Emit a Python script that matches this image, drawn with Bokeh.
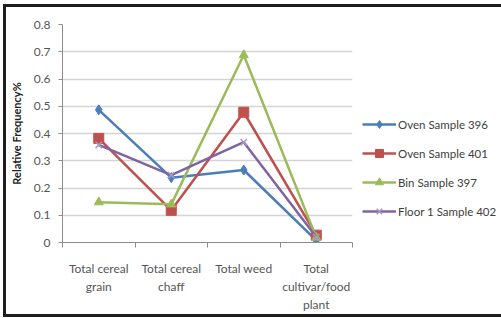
from bokeh.plotting import figure
from bokeh.models import FixedTicker, Legend, LegendItem
from bokeh.embed import file_html
from bokeh.resources import INLINE

categories = ["Total cereal\ngrain", "Total cereal\nchaff", "Total weed", "Total\ncultivar/food\nplant"]
series_names = ["Oven Sample 396", "Oven Sample 401", "Bin Sample 397", "Floor 1 Sample 402"]
oven_396 = [0.487, 0.238, 0.266, 0.008]
oven_401 = [0.382, 0.118, 0.478, 0.027]
bin_397 = [0.148, 0.140, 0.688, 0.018]
floor_402 = [0.358, 0.247, 0.368, 0.020]
y_ticks = [0, 0.1, 0.2, 0.3, 0.4, 0.5, 0.6, 0.7, 0.8]

FONT = "Lato"
xs = [i + 0.5 for i in range(len(categories))]

p = figure(width=489, height=305, frame_width=290, frame_height=218,
           x_range=(0, len(categories)), y_range=(0, 0.8),
           output_backend="svg", toolbar_location=None,
           min_border_left=56, min_border_right=143, min_border_top=17, min_border_bottom=70)
p.styles = {"margin-left": "3px", "margin-top": "4px",
            "border-top": "3px solid #1e1e1e", "border-left": "3px solid #1e1e1e",
            "border-bottom": "3px solid #1e1e1e"}
p.outline_line_color = None
p.background_fill_color = "white"
p.border_fill_color = "white"

# axes
p.xaxis.ticker = FixedTicker(ticks=xs, minor_ticks=list(range(len(categories) + 1)))
p.xaxis.major_label_overrides = {x: c for x, c in zip(xs, categories)}
p.xaxis.major_tick_line_color = None
p.xaxis.minor_tick_in = 0
p.xaxis.minor_tick_out = 5
p.xaxis.minor_tick_line_color = "#8c8c8c"
p.xaxis.axis_line_color = "#8c8c8c"
p.xaxis.major_label_text_font = FONT
p.xaxis.major_label_text_font_size = "12px"
p.xaxis.major_label_text_color = "#555555"
p.xaxis.major_label_standoff = 12

p.yaxis.ticker = FixedTicker(ticks=y_ticks)
p.yaxis.major_label_overrides = {t: ("0" if t == 0 else f"{t:.1f}") for t in y_ticks}
p.yaxis.minor_tick_line_color = None
p.yaxis.major_tick_in = 0
p.yaxis.major_tick_out = 4
p.yaxis.major_tick_line_color = "#8c8c8c"
p.yaxis.axis_line_color = "#8c8c8c"
p.yaxis.major_label_text_font = FONT
p.yaxis.major_label_text_font_size = "12px"
p.yaxis.major_label_text_color = "#555555"
p.yaxis.major_label_standoff = 8
p.yaxis.axis_label = "Relative Frequency%"
p.yaxis.axis_label_text_font = FONT
p.yaxis.axis_label_text_font_style = "bold"
p.yaxis.axis_label_text_font_size = "11px"
p.yaxis.axis_label_text_color = "#222222"
p.yaxis.axis_label_standoff = 8

p.xgrid.grid_line_color = None
p.ygrid.ticker = FixedTicker(ticks=y_ticks)
p.ygrid.grid_line_color = "#d4d4d4"
p.ygrid.grid_line_width = 1.5

items = []
lw = 2.5
c1, c2, c3, c4 = "#4a7ebb", "#c0504d", "#9bbb59", "#8064a2"
l1 = p.line(xs, oven_396, line_color=c1, line_width=lw)
m1 = p.scatter(xs, oven_396, marker="diamond", size=10, fill_color=c1, line_color=c1)
l2 = p.line(xs, oven_401, line_color=c2, line_width=lw)
m2 = p.scatter(xs, oven_401, marker="square", size=10, fill_color=c2, line_color=c2)
l3 = p.line(xs, bin_397, line_color=c3, line_width=lw)
m3 = p.scatter(xs, bin_397, marker="triangle", size=9, fill_color=c3, line_color=c3)
l4 = p.line(xs, floor_402, line_color=c4, line_width=lw)
m4 = p.scatter(xs, floor_402, marker="x", size=9, line_color="#a897c0", line_width=1.5)

for name, rs in zip(series_names, [[l1, m1], [l2, m2], [l3, m3], [l4, m4]]):
    items.append(LegendItem(label=name, renderers=rs))

legend = Legend(items=items, location=(10, 21), padding=0, spacing=9, margin=0,
                glyph_width=34, glyph_height=20, label_height=20, label_standoff=2,
                border_line_color=None, background_fill_alpha=0,
                label_text_font=FONT, label_text_font_size="11.5px", label_text_color="#404040")
p.add_layout(legend, "right")

open("out.html", "w").write(file_html(p, INLINE))
